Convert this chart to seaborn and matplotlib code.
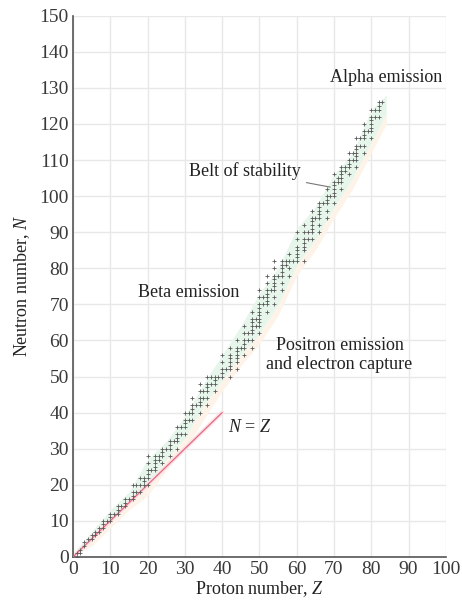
import matplotlib
matplotlib.use("Agg")
import matplotlib.pyplot as plt
import seaborn as sns
import pandas as pd

# ---- data: stable nuclides (Z -> list of N) ----
stable_N = {
    1: [0, 1], 2: [1, 2], 3: [3, 4], 4: [5], 5: [5, 6], 6: [6, 7], 7: [7, 8],
    8: [8, 9, 10], 9: [10], 10: [10, 11, 12], 11: [12], 12: [12, 13, 14],
    13: [14], 14: [14, 15, 16], 15: [16], 16: [16, 17, 18, 20], 17: [18, 20],
    18: [18, 20, 22], 19: [20, 21, 22], 20: [20, 22, 23, 24, 26, 28], 21: [24],
    22: [24, 25, 26, 27, 28], 23: [27, 28], 24: [26, 28, 29, 30], 25: [30],
    26: [28, 30, 31, 32], 27: [32], 28: [30, 32, 33, 34, 36], 29: [34, 36],
    30: [34, 36, 37, 38, 40], 31: [38, 40], 32: [38, 40, 41, 42, 44], 33: [42],
    34: [40, 42, 43, 44, 46, 48], 35: [44, 46], 36: [42, 44, 46, 47, 48, 50],
    37: [48, 50], 38: [46, 48, 49, 50], 39: [50], 40: [50, 51, 52, 54, 56],
    41: [52], 42: [50, 52, 53, 54, 55, 56, 58], 44: [52, 54, 55, 56, 57, 58, 60],
    45: [58], 46: [56, 58, 59, 60, 62, 64], 47: [60, 62],
    48: [58, 60, 62, 63, 64, 65, 66, 68], 49: [64, 66],
    50: [62, 64, 65, 66, 67, 68, 69, 70, 72, 74], 51: [70, 72],
    52: [68, 70, 71, 72, 73, 74, 76, 78], 53: [74],
    54: [70, 72, 74, 75, 76, 77, 78, 80, 82], 55: [78],
    56: [74, 76, 78, 79, 80, 81, 82], 57: [81, 82], 58: [78, 80, 82, 84],
    59: [82], 60: [82, 83, 84, 85, 86, 88, 90], 62: [82, 85, 86, 87, 88, 90, 92],
    63: [88, 90], 64: [88, 90, 91, 92, 93, 94, 96], 65: [94],
    66: [90, 92, 94, 95, 96, 97, 98], 67: [98], 68: [94, 96, 98, 99, 100, 102],
    69: [100], 70: [98, 100, 101, 102, 103, 104, 106], 71: [104, 105],
    72: [102, 104, 105, 106, 107, 108], 73: [107, 108],
    74: [106, 108, 109, 110, 112], 75: [110, 112],
    76: [108, 110, 111, 112, 113, 114, 116], 77: [114, 116],
    78: [112, 114, 116, 117, 118, 120], 79: [118],
    80: [116, 118, 119, 120, 121, 122, 124], 81: [122, 124],
    82: [122, 124, 125, 126], 83: [126],
}

# faint band of known nuclides around the belt
band_z = [0, 5, 10, 15, 20, 25, 30, 35, 40, 45, 50, 55, 60, 65, 70, 75, 80, 84]
green_low = [0, 5, 10, 15, 20, 27, 33, 42, 49, 56, 62, 70, 81, 88, 97, 105, 115, 123]
green_high = [1, 7, 13, 18, 27, 32, 39, 48, 56, 64, 73, 80, 91, 97, 106, 112, 124, 128]
peach_low = [0, 3, 8, 13, 17, 24, 30, 38, 46, 53, 59, 67, 78, 85, 94, 102, 112, 120]

line_z = [0, 40]
line_n = [0, 40]

x_ticks = list(range(0, 101, 10))
y_ticks = list(range(0, 151, 10))

rows = [(z, n) for z, ns in stable_N.items() for n in ns]
df = pd.DataFrame(rows, columns=["Z", "N"])
line_df = pd.DataFrame({"Z": line_z, "N": line_n})

sns.set_style("white")
plt.rcParams["font.family"] = ["Liberation Serif", "DejaVu Serif"]
plt.rcParams["mathtext.fontset"] = "custom"
plt.rcParams["mathtext.it"] = "Liberation Serif:italic"
plt.rcParams["mathtext.rm"] = "Liberation Serif"

fig = plt.figure(figsize=(4.62, 6.06), dpi=100)
ax = fig.add_axes([0.158, 0.081, 0.807, 0.893])

ax.fill_between(band_z, peach_low, green_low, color="#fdf3e8", lw=0, zorder=1)
ax.fill_between(band_z, green_low, green_high, color="#e6f6eb", lw=0, zorder=1)

sns.lineplot(data=line_df, x="Z", y="N", ax=ax, color="#fbe1e6", lw=3.0, zorder=2)
sns.lineplot(data=line_df, x="Z", y="N", ax=ax, color="#e46a80", lw=0.9, zorder=3)
sns.scatterplot(data=df, x="Z", y="N", ax=ax, marker="+", s=6, color="#5a5a5a",
                linewidth=0.6, zorder=4)

ax.set_xlim(0, 100)
ax.set_ylim(0, 150)
ax.set_xticks(x_ticks)
ax.set_yticks(y_ticks)
ax.grid(True, color="#e8e8e8", lw=1.0, zorder=0)
ax.set_axisbelow(True)
for s in ["top", "right"]:
    ax.spines[s].set_visible(False)
for s in ["left", "bottom"]:
    ax.spines[s].set_color("#555555")
    ax.spines[s].set_linewidth(1.2)
ax.tick_params(direction="in", length=8, width=1.1, color="#555555",
               labelsize=14, labelcolor="#3a3a3a", pad=3)
ax.set_xlabel("Proton number, $Z$", fontsize=13, color="#222222", labelpad=1)
ax.set_ylabel("Neutron number, $N$", fontsize=13, color="#222222", labelpad=5)

tkw = dict(fontsize=13, color="#222222", ha="center", va="center", zorder=5)
ax.text(84, 133, "Alpha emission", **tkw)
ax.text(31, 73.3, "Beta emission", **tkw)
ax.text(71.5, 56, "Positron emission\nand electron capture", linespacing=1.1, **tkw)
ax.text(47.5, 36, "$N$ = $Z$", **tkw)
ax.annotate("Belt of stability", xy=(69, 102.5), xytext=(46, 107),
            fontsize=13, color="#222222", ha="center", va="center", zorder=5,
            arrowprops=dict(arrowstyle="-", color="#777777", lw=0.8,
                            shrinkA=2, shrinkB=0))

fig.savefig("out.png", dpi=100)
